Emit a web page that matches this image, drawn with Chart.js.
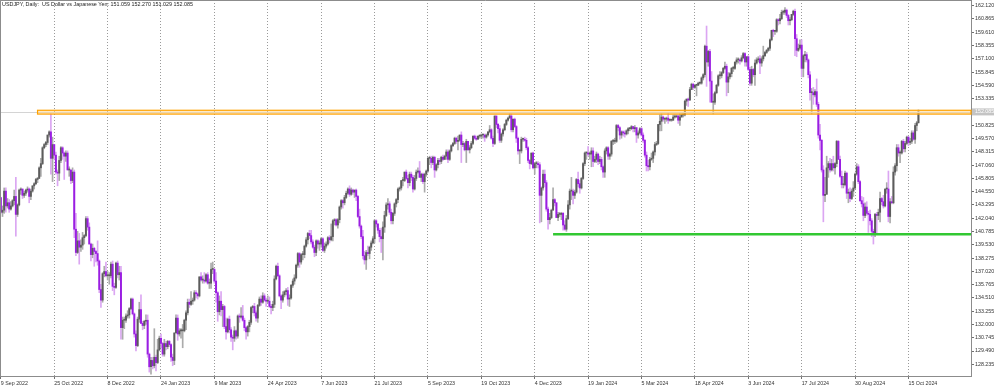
<!DOCTYPE html>
<html>
<head>
<meta charset="utf-8">
<title>USDJPY Daily</title>
<script src="https://cdn.jsdelivr.net/npm/chart.js@4.4.1/dist/chart.umd.min.js"></script>
<style>
  html, body { margin: 0; padding: 0; background: #fff; }
  #wrap { width: 1000px; height: 388px; }
</style>
</head>
<body>
<div id="wrap"><canvas id="priceChart" width="1000" height="388"></canvas></div>
<script>
// USDJPY daily candles, 9 Sep 2022 .. 23 Oct 2024 (one line per week)
var opens = [
  144.0,
  142.6,142.8,144.6,143.2,143.5, 142.9,143.2,143.7,144.1,142.4, 143.3,144.7,144.8,144.2,144.4,
  144.7,144.8,144.1,144.6,145.1, 145.3,145.7,145.8,146.8,147.2, 148.7,149.0,149.2,149.9,150.2,
  147.7,149.0,148.0,146.4,146.3, 147.5,148.7,148.2,147.9,148.2, 146.6,146.6,145.6,146.4,141.0,
  138.8,139.9,139.3,139.5,140.2, 140.4,142.0,141.2,139.6,138.6, 139.2,138.9,138.7,138.0,135.3,
  134.3,136.8,137.0,136.6,136.6, 136.6,137.7,135.6,135.5,137.8, 136.7,136.9,131.7,132.4,132.4,
  132.8,132.9,133.5,134.4,133.0, 131.1,130.0,132.5,133.4,
  132.1,131.9,132.3,132.4,129.2, 128.0,128.6,128.1,128.9,128.4, 129.6,130.7,130.2,129.2,130.2,
  129.9,130.4,130.1,128.9,128.6, 131.2,132.6,131.1,131.4,131.4, 131.4,132.4,133.1,134.1,133.9,
  134.2,134.3,135.0,134.9,134.7, 136.5,136.2,136.2,136.1,136.7, 135.9,135.9,137.2,137.2,136.1,
  135.0,133.2,134.2,133.4,133.7, 131.8,131.3,132.5,131.5,130.8, 130.7,131.4,130.9,132.8,132.7,
  132.8,132.4,131.7,131.3,131.8, 132.2,133.6,133.7,133.1,132.6, 133.8,134.4,134.1,134.7,134.3,
  134.2,134.2,133.7,133.6,133.9, 136.3,137.5,136.6,134.7,134.3, 134.8,135.1,135.2,134.4,134.5,
  135.7,136.1,136.4,137.6,138.7, 137.9,138.6,138.6,139.4,140.0, 140.6,140.4,139.8,139.3,138.8,
  139.9,139.6,139.6,140.1,139.0, 139.4,139.6,140.2,140.0,140.3, 141.8,141.9,141.4,141.9,143.1,
  143.7,143.5,144.0,144.4,144.8, 144.3,144.7,144.5,144.7,144.1, 142.2,141.3,140.3,138.5,138.1,
  138.8,138.7,139.3,139.7,140.1, 141.8,141.5,140.9,140.3,140.1, 141.2,142.3,143.3,143.4,142.6,
  141.8,142.5,143.4,143.8,144.8, 144.9,145.6,145.6,146.4,145.8, 145.4,146.2,145.9,144.8,145.8,
  146.4,146.5,145.9,146.2,145.5, 146.2,146.5,147.7,147.7,147.3, 147.8,146.6,147.1,147.5,147.4,
  147.8,147.6,147.9,148.3,147.6, 148.4,148.9,149.1,149.6,149.3, 149.4,149.9,149.0,149.1,148.5,
  149.3,148.5,148.7,149.1,149.8, 149.6,149.5,149.8,149.8,149.9, 149.9,149.7,149.9,150.2,150.4,
  149.6,149.1,151.7,150.9,150.5, 149.4,150.0,150.4,150.9,151.3, 151.5,151.7,150.4,151.4,150.7,
  149.6,148.4,148.4,149.5,149.5, 149.4,148.7,147.5,147.2,148.2, 146.8,147.2,147.2,147.1,144.2,
  144.9,146.2,145.4,142.9,141.9, 142.1,142.8,143.8,143.5,142.1, 142.4,142.4,142.5,141.4,
  141.0,142.0,143.3,144.6,
  144.6,144.2,144.5,145.7,145.3, 144.9,145.8,147.2,148.2,148.2, 148.1,148.1,148.4,147.4,147.6,
  148.1,147.4,147.6,146.9,146.4, 148.4,148.7,147.9,148.1,149.3, 149.3,149.3,150.8,150.6,149.9,
  150.2,150.1,150.0,150.3,150.5, 150.5,150.7,150.5,150.6,149.9, 150.1,150.5,149.9,149.4,148.0,
  147.0,146.9,147.6,147.7,148.3, 149.0,149.1,150.9,151.2,151.6, 151.4,151.4,151.5,151.3,151.3,
  151.3,151.6,151.6,151.7,151.3, 151.6,151.8,151.8,153.1,153.3, 153.2,154.2,154.7,154.4,154.6,
  154.6,154.8,154.8,155.3,155.6, 158.3,156.8,157.8,155.0,153.0, 153.0,153.9,154.6,155.5,155.5,
  155.8,156.2,156.4,154.9,155.4, 155.7,156.2,156.2,156.8,157.0, 157.0,156.9,157.2,157.6,156.8,
  157.3,156.1,154.8,156.1,155.6, 156.7,157.0,157.1,156.7,157.1, 157.4,157.7,157.9,158.1,158.9,
  159.8,159.7,159.7,160.8,160.7, 160.9,161.5,161.5,161.7,161.2, 160.7,160.8,161.3,161.6,159.0,
  157.9,158.1,158.4,156.2,157.4, 157.5,157.0,155.6,153.9,153.9, 153.7,154.0,152.8,149.9,149.4,
  146.6,144.2,144.3,146.8,147.2, 146.6,147.2,146.8,147.2,149.3, 147.6,146.0,145.2,145.2,146.3,
  144.4,144.5,143.9,144.6,144.9, 146.2,146.9,145.5,143.7,143.4, 142.3,143.1,142.5,142.4,141.8,
  140.8,140.6,142.4,142.3,142.6, 143.9,143.6,143.2,144.8,144.8, 142.2,143.6,143.5,146.4,147.0,
  148.7,148.2,148.2,149.3,148.6, 149.1,149.7,149.2,149.3,150.1, 149.5,150.8,151.059
];
var highs = [
  144.0,
  143.2,144.9,144.9,143.9,143.8, 143.6,143.8,144.7,145.9,143.4, 144.8,144.9,144.8,144.6,144.8,
  145.0,144.9,144.8,145.1,145.4, 145.8,145.9,146.9,147.7,148.8, 149.1,149.3,149.9,150.3,151.9,
  149.7,149.0,148.3,146.6,147.9, 148.8,148.8,148.3,148.4,148.4, 146.9,146.6,146.8,146.6,142.5,
  140.8,140.6,140.0,140.7,140.5, 142.2,142.2,141.6,139.7,139.6, 139.3,139.0,139.9,138.1,135.8,
  136.9,137.5,137.9,137.0,136.9, 137.9,138.0,135.9,137.9,138.0, 137.5,137.5,132.7,132.7,133.0,
  133.3,133.6,134.5,134.5,133.1, 131.4,132.7,134.1,134.8,
  132.3,132.4,132.9,132.9,129.3, 128.9,128.9,131.6,129.1,130.6, 130.9,131.1,130.3,130.6,130.4,
  130.5,130.5,130.2,129.2,131.2, 132.9,132.9,131.6,131.6,132.0, 132.5,133.3,134.4,134.4,135.1,
  134.5,135.2,135.2,135.0,136.5, 136.9,136.6,136.9,136.8,136.9, 136.3,137.8,137.9,137.3,136.9,
  135.1,134.7,135.1,133.9,133.8, 132.6,132.6,132.8,131.7,131.0, 131.8,131.5,132.9,133.0,133.6,
  133.8,132.6,131.8,131.9,132.4, 133.7,133.8,134.0,133.3,133.9, 134.6,134.7,135.0,134.9,134.5,
  134.7,134.6,133.9,134.2,136.6, 137.6,137.8,136.7,134.8,135.1, 135.2,135.4,135.5,134.8,135.8,
  136.3,136.7,137.7,138.8,138.8, 138.7,138.9,139.5,140.2,140.7, 140.9,140.9,140.0,139.5,140.0,
  140.0,139.9,140.2,140.2,139.7, 139.8,140.3,140.4,141.5,141.9, 142.0,142.0,142.0,143.2,143.8,
  143.8,144.2,144.6,144.9,145.1, 144.9,144.8,144.7,144.8,144.2, 142.9,141.4,140.9,138.9,139.0,
  139.4,139.4,139.9,140.3,141.9, 141.9,141.5,141.1,141.1,141.7, 142.7,143.5,143.9,143.6,142.9,
  142.6,143.5,143.9,144.9,145.0, 145.6,145.9,146.4,146.6,146.1, 146.4,146.4,146.1,146.1,146.6,
  146.8,147.4,146.3,146.3,146.3, 146.6,147.8,147.9,147.9,147.9, 147.9,147.2,147.7,147.7,147.9,
  148.0,148.0,148.5,148.5,148.5, 149.0,149.2,149.7,149.7,149.8, 149.9,150.2,149.3,149.2,149.5,
  149.3,148.9,149.3,149.8,149.9, 149.8,149.8,149.9,150.0,150.0, 150.0,150.0,150.2,150.8,150.5,
  149.8,151.7,151.7,151.0,150.8, 150.1,150.5,151.0,151.4,151.6, 151.9,151.9,151.4,151.5,150.8,
  149.7,148.5,149.7,149.6,149.7, 149.6,148.8,147.6,148.2,148.3, 147.3,147.4,147.4,147.3,145.0,
  146.6,146.6,145.6,143.1,142.5, 142.9,144.9,143.9,143.5,142.6, 142.6,142.6,142.6,141.8,
  142.3,143.7,144.8,145.9,
  144.8,144.7,145.8,146.4,145.6, 145.9,147.3,148.3,148.3,148.8, 148.3,148.7,148.7,147.9,148.3,
  148.2,147.9,147.8,147.0,148.6, 148.8,148.8,148.2,149.4,149.5, 149.6,150.9,150.9,150.7,150.3,
  150.3,150.3,150.4,150.6,150.6, 150.8,150.7,150.8,150.6,150.3, 150.6,150.6,150.1,149.5,148.3,
  147.5,147.8,148.2,148.4,149.2, 149.3,150.9,151.8,151.9,151.7, 151.5,151.6,152.0,151.4,151.4,
  151.8,151.8,151.8,151.8,151.9, 151.9,151.9,153.2,153.3,153.4, 154.4,154.8,154.8,154.7,154.7,
  154.9,154.9,155.4,155.7,158.4, 160.2,157.9,158.0,155.9,153.8, 154.0,154.7,155.6,155.9,155.9,
  156.3,156.8,156.6,155.8,155.8, 156.3,156.4,156.8,157.2,157.2, 157.1,157.4,157.7,157.7,157.3,
  157.4,156.3,156.4,156.2,157.0, 157.2,157.3,157.4,157.3,158.3, 157.8,158.0,158.2,159.0,159.8,
  159.9,159.8,160.9,160.9,161.3, 161.7,161.7,161.95,161.8,161.3, 161.0,161.3,161.7,161.8,159.4,
  158.5,158.9,158.9,157.5,157.8, 157.7,157.1,155.9,154.3,154.4, 154.2,155.2,153.0,150.9,149.5,
  147.0,145.9,147.9,147.4,147.7, 147.6,147.9,147.3,149.4,149.4, 147.9,146.5,146.0,146.5,146.4,
  144.8,144.9,144.8,145.5,146.3, 147.2,147.1,145.6,144.1,144.0, 143.5,143.6,142.7,142.8,142.0,
  141.0,142.5,142.6,142.9,144.5, 144.0,144.2,144.8,145.4,146.5, 143.9,144.1,146.9,147.2,149.0,
  149.0,148.4,149.4,149.5,149.3, 149.8,149.8,149.6,150.3,150.3, 151.0,151.2,152.270
];
var lows = [
  142.5,
  142.2,142.5,142.6,143.0,142.6, 142.8,143.1,143.3,140.35,142.2, 143.2,144.3,143.9,144.0,144.2,
  144.5,143.5,143.8,144.5,144.8, 145.2,145.4,145.8,146.0,147.1, 148.6,148.8,149.0,149.7,146.2,
  145.5,147.6,146.2,145.1,145.6, 147.3,147.6,145.7,147.4,146.6, 146.0,145.3,145.4,140.2,138.5,
  138.7,137.7,138.9,139.1,139.6, 140.3,140.9,139.6,138.0,138.3, 137.5,137.9,137.6,135.0,133.6,
  134.1,136.5,136.5,136.2,135.8, 136.4,135.2,134.8,135.4,136.4, 136.2,130.6,130.6,131.6,132.2,
  132.6,132.6,133.4,132.9,130.8, 129.5,129.9,132.2,132.1,
  131.5,131.6,132.0,128.9,127.5, 127.3,127.8,127.9,127.6,128.3, 129.5,129.8,129.0,129.0,129.6,
  129.7,129.9,128.5,128.1,128.2, 131.2,130.5,130.9,130.7,129.8, 131.3,131.5,132.9,133.6,133.8,
  133.9,134.2,134.5,134.4,134.6, 136.1,135.9,135.9,136.0,135.8, 135.4,135.4,136.8,135.9,134.1,
  132.3,132.9,132.8,131.8,131.6, 130.6,131.2,131.2,130.4,129.6, 130.4,130.6,130.7,132.2,132.6,
  132.3,131.4,130.6,130.9,131.3, 132.0,133.1,132.8,132.3,132.2, 133.7,133.8,134.0,134.2,133.7,
  134.0,133.6,133.0,133.3,133.6, 136.2,136.5,134.6,133.5,134.1, 134.6,134.8,133.8,133.7,134.4,
  135.5,135.8,136.3,137.4,137.4, 137.7,138.1,138.3,139.3,139.6, 140.1,139.6,139.2,138.4,138.5,
  139.2,139.0,139.3,138.9,138.8, 139.2,139.5,139.7,139.9,139.9, 141.4,141.3,141.1,141.6,142.9,
  143.0,143.3,143.9,144.3,144.1, 144.2,144.3,144.0,143.7,142.1, 141.1,140.1,138.2,137.7,137.2,
  138.5,138.2,139.0,139.6,139.7, 141.2,140.6,139.8,138.8,138.1, 140.7,142.2,142.9,142.4,141.5,
  141.5,142.3,143.1,143.5,144.6, 144.7,145.1,145.5,145.7,144.9, 145.1,145.6,144.5,144.7,145.6,
  146.3,145.9,145.5,145.3,144.5, 146.0,146.4,147.1,146.8,147.1, 145.9,146.5,146.8,147.1,147.2,
  147.5,147.6,147.6,147.3,147.5, 148.3,148.8,149.0,149.1,148.5, 149.3,147.3,148.8,148.4,147.3,
  148.5,148.2,148.6,149.0,149.5, 149.4,149.5,149.6,149.6,149.6, 149.3,149.6,149.8,150.1,149.5,
  148.8,149.0,150.6,150.1,149.2, 149.2,149.8,150.3,150.8,151.2, 151.5,150.2,150.2,150.6,149.2,
  148.1,147.2,148.2,149.3,149.3, 148.5,147.3,146.7,147.1,146.7, 146.2,146.8,146.8,141.6,141.7,
  144.7,145.0,142.7,141.0,141.5, 142.0,142.8,143.2,142.1,141.8, 142.2,141.9,140.9,140.9,
  140.8,141.9,142.9,143.8,
  143.4,143.9,144.4,145.0,144.4, 144.8,145.7,147.0,147.6,147.9, 147.6,146.9,146.9,147.3,147.3,
  147.1,147.2,146.6,145.9,145.9, 148.1,147.6,147.6,147.9,149.0, 149.1,149.2,150.3,149.5,149.6,
  149.8,149.7,149.9,150.0,150.3, 150.4,150.2,150.2,149.2,149.6, 150.0,149.8,149.2,147.8,146.5,
  146.5,146.6,147.5,147.3,148.0, 148.9,149.0,150.3,150.3,151.2, 151.0,151.2,151.0,151.2,151.2,
  151.3,151.5,151.6,151.0,150.8, 151.6,151.6,151.7,152.7,152.6, 153.2,154.2,154.2,154.3,153.6,
  154.6,154.7,154.7,155.1,155.4, 154.5,156.4,153.0,153.0,151.9, 152.8,153.8,154.5,155.2,155.3,
  155.7,156.1,153.6,153.9,155.2, 155.4,155.9,156.1,156.6,156.7, 156.6,156.8,157.1,156.4,156.4,
  156.0,154.6,154.6,155.4,154.6, 156.6,156.8,155.7,156.4,156.9, 157.3,157.6,157.8,157.9,158.8,
  159.2,159.4,159.6,160.3,160.4, 160.8,161.3,161.3,161.0,160.3, 160.3,160.7,161.2,157.4,157.3,
  157.8,158.0,155.4,155.4,156.8, 156.8,155.3,153.2,151.9,152.8, 153.5,152.6,149.6,148.5,146.4,
  141.7,143.6,144.3,145.9,146.4, 146.5,146.5,146.2,146.9,147.6, 145.9,144.9,144.9,145.1,143.9,
  143.5,143.6,143.8,144.1,144.8, 146.1,145.3,143.6,143.1,141.8, 142.1,142.3,140.7,141.4,140.3,
  139.6,140.3,140.5,141.9,141.7, 143.3,143.0,143.1,144.4,141.7, 141.6,143.4,143.4,146.1,146.5,
  147.9,147.3,148.1,148.3,148.3, 149.0,148.9,149.0,149.1,149.4, 149.1,150.3,151.029
];
var closes = [
  142.6,
  142.8,144.6,143.2,143.5,142.9, 143.2,143.7,144.1,142.4,143.3, 144.7,144.8,144.2,144.4,144.7,
  144.8,144.1,144.6,145.1,145.3, 145.7,145.8,146.8,147.2,148.7, 149.0,149.2,149.9,150.2,147.7,
  149.0,148.0,146.4,146.3,147.5, 148.7,148.2,147.9,148.2,146.6, 146.6,145.6,146.4,141.0,138.8,
  139.9,139.3,139.5,140.2,140.4, 142.0,141.2,139.6,138.6,139.2, 138.9,138.7,138.0,135.3,134.3,
  136.8,137.0,136.6,136.6,136.6, 137.7,135.6,135.5,137.8,136.7, 136.9,131.7,132.4,132.4,132.8,
  132.9,133.5,134.4,133.0,131.1, 130.0,132.5,133.4,132.1,
  131.9,132.3,132.4,129.2,128.0, 128.6,128.1,128.9,128.4,129.6, 130.7,130.2,129.2,130.2,129.9,
  130.4,130.1,128.9,128.6,131.2, 132.6,131.1,131.4,131.4,131.4, 132.4,133.1,134.1,133.9,134.2,
  134.3,135.0,134.9,134.7,136.5, 136.2,136.2,136.1,136.7,135.9, 135.9,137.2,137.2,136.1,135.0,
  133.2,134.2,133.4,133.7,131.8, 131.3,132.5,131.5,130.8,130.7, 131.4,130.9,132.8,132.7,132.8,
  132.4,131.7,131.3,131.8,132.2, 133.6,133.7,133.1,132.6,133.8, 134.4,134.1,134.7,134.3,134.2,
  134.2,133.7,133.6,133.9,136.3, 137.5,136.6,134.7,134.3,134.8, 135.1,135.2,134.4,134.5,135.7,
  136.1,136.4,137.6,138.7,137.9, 138.6,138.6,139.4,140.0,140.6, 140.4,139.8,139.3,138.8,139.9,
  139.6,139.6,140.1,139.0,139.4, 139.6,140.2,140.0,140.3,141.8, 141.9,141.4,141.9,143.1,143.7,
  143.5,144.0,144.4,144.8,144.3, 144.7,144.5,144.7,144.1,142.2, 141.3,140.3,138.5,138.1,138.8,
  138.7,139.3,139.7,140.1,141.8, 141.5,140.9,140.3,140.1,141.2, 142.3,143.3,143.4,142.6,141.8,
  142.5,143.4,143.8,144.8,144.9, 145.6,145.6,146.4,145.8,145.4, 146.2,145.9,144.8,145.8,146.4,
  146.5,145.9,146.2,145.5,146.2, 146.5,147.7,147.7,147.3,147.8, 146.6,147.1,147.5,147.4,147.8,
  147.6,147.9,148.3,147.6,148.4, 148.9,149.1,149.6,149.3,149.4, 149.9,149.0,149.1,148.5,149.3,
  148.5,148.7,149.1,149.8,149.6, 149.5,149.8,149.8,149.9,149.9, 149.7,149.9,150.2,150.4,149.6,
  149.1,151.7,150.9,150.5,149.4, 150.0,150.4,150.9,151.3,151.5, 151.7,150.4,151.4,150.7,149.6,
  148.4,148.4,149.5,149.5,149.4, 148.7,147.5,147.2,148.2,146.8, 147.2,147.2,147.1,144.2,144.9,
  146.2,145.4,142.9,141.9,142.1, 142.8,143.8,143.5,142.1,142.4, 142.4,142.5,141.4,141.0,
  142.0,143.3,144.6,144.6,
  144.2,144.5,145.7,145.3,144.9, 145.8,147.2,148.2,148.2,148.1, 148.1,148.4,147.4,147.6,148.1,
  147.4,147.6,146.9,146.4,148.4, 148.7,147.9,148.1,149.3,149.3, 149.3,150.8,150.6,149.9,150.2,
  150.1,150.0,150.3,150.5,150.5, 150.7,150.5,150.6,149.9,150.1, 150.5,149.9,149.4,148.0,147.0,
  146.9,147.6,147.7,148.3,149.0, 149.1,150.9,151.2,151.6,151.4, 151.4,151.5,151.3,151.3,151.3,
  151.6,151.6,151.7,151.3,151.6, 151.8,151.8,153.1,153.3,153.2, 154.2,154.7,154.4,154.6,154.6,
  154.8,154.8,155.3,155.6,158.3, 156.8,157.8,155.0,153.0,153.0, 153.9,154.6,155.5,155.5,155.8,
  156.2,156.4,154.9,155.4,155.7, 156.2,156.2,156.8,157.0,157.0, 156.9,157.2,157.6,156.8,157.3,
  156.1,154.8,156.1,155.6,156.7, 157.0,157.1,156.7,157.1,157.4, 157.7,157.9,158.1,158.9,159.8,
  159.7,159.7,160.8,160.7,160.9, 161.5,161.5,161.7,161.2,160.7, 160.8,161.3,161.6,159.0,157.9,
  158.1,158.4,156.2,157.4,157.5, 157.0,155.6,153.9,153.9,153.7, 154.0,152.8,149.9,149.4,146.6,
  144.2,144.3,146.8,147.2,146.6, 147.2,146.8,147.2,149.3,147.6, 146.0,145.2,145.2,146.3,144.4,
  144.5,143.9,144.6,144.9,146.2, 146.9,145.5,143.7,143.4,142.3, 143.1,142.5,142.4,141.8,140.8,
  140.6,142.4,142.3,142.6,143.9, 143.6,143.2,144.8,144.8,142.2, 143.6,143.5,146.4,147.0,148.7,
  148.2,148.2,149.3,148.6,149.1, 149.7,149.2,149.3,150.1,149.5, 150.8,151.06,152.085
];

// date labels on the time axis, one every 32 bars
var xTickLabels = ['9 Sep 2022', '25 Oct 2022', '8 Dec 2022', '24 Jan 2023', '9 Mar 2023', '24 Apr 2023',
  '7 Jun 2023', '21 Jul 2023', '5 Sep 2023', '19 Oct 2023', '4 Dec 2023', '19 Jan 2024',
  '5 Mar 2024', '18 Apr 2024', '3 Jun 2024', '17 Jul 2024', '30 Aug 2024', '15 Oct 2024'];
var barsPerLabel = 32;
var emptyBarsRight = 31;

// price scale labels
var yTicks = [128.235, 129.490, 130.745, 132.000, 133.255, 134.510, 135.765, 137.020, 138.275,
  139.530, 140.785, 142.040, 143.295, 144.550, 145.805, 147.060, 148.315, 149.570, 150.825,
  153.335, 154.590, 155.845, 157.100, 158.355, 159.610, 160.865, 162.120];

// drawn objects
var lastPrice = 152.085;
var zoneFrom = 22, zoneLow = 151.88, zoneHigh = 152.24;
var supportFrom = 331, supportLevel = 140.53;
var title = 'USDJPY, Daily:  US Dollar vs Japanese Yen: 151.059 152.270 151.029 152.085';

var FONT = "'Liberation Sans', Arial, sans-serif";

var n = closes.length;
var slotLabels = [];
for (var i = 0; i < n + emptyBarsRight; i++) slotLabels.push('');
var xTickIndex = xTickLabels.map(function (t, k) { return k * barsPerLabel; });
xTickIndex.forEach(function (v, k) { slotLabels[v] = xTickLabels[k]; });

var bodyData = opens.map(function (o, i) { return [o, closes[i]]; });
var wickData = lows.map(function (l, i) { return [l, highs[i]]; });
var bodyColors = opens.map(function (o, i) { return closes[i] >= o ? '#5c5c5c' : '#9a1ee2'; });
var wickColors = opens.map(function (o, i) { return closes[i] >= o ? '#ababab' : '#dba6f2'; });

function noPad(s) { s.paddingTop = 0; s.paddingBottom = 0; s.paddingLeft = 0; s.paddingRight = 0; }

var overlay = {
  id: 'overlay',
  afterDatasetsDraw: function (chart) {
    var ctx = chart.ctx, a = chart.chartArea;
    var xs = chart.scales.x, ys = chart.scales.y;
    ctx.save();
    // last price line
    var yp = Math.round(ys.getPixelForValue(lastPrice)) + 0.5;
    ctx.strokeStyle = '#d4d4d4';
    ctx.lineWidth = 1;
    ctx.beginPath(); ctx.moveTo(a.left, yp); ctx.lineTo(a.right, yp); ctx.stroke();
    // resistance zone
    var zx = xs.getPixelForValue(zoneFrom);
    var zt = ys.getPixelForValue(zoneHigh), zb = ys.getPixelForValue(zoneLow);
    ctx.fillStyle = 'rgba(255,214,140,0.5)';
    ctx.fillRect(zx, zt, a.right - zx, zb - zt);
    ctx.strokeStyle = '#ffa200';
    ctx.lineWidth = 1.2;
    ctx.strokeRect(zx, zt, a.right - zx, zb - zt);
    // support line
    var gy = ys.getPixelForValue(supportLevel), gx = xs.getPixelForValue(supportFrom);
    ctx.strokeStyle = '#32c832';
    ctx.lineWidth = 2.6;
    ctx.beginPath(); ctx.moveTo(gx, gy); ctx.lineTo(a.right, gy); ctx.stroke();
    ctx.restore();
  },
  afterDraw: function (chart) {
    var ctx = chart.ctx, a = chart.chartArea, ys = chart.scales.y;
    ctx.save();
    // frame top + left
    ctx.strokeStyle = '#8c8c8c';
    ctx.lineWidth = 1;
    ctx.beginPath();
    ctx.moveTo(a.left + 0.5, a.bottom); ctx.lineTo(a.left + 0.5, a.top + 0.5); ctx.lineTo(a.right, a.top + 0.5);
    ctx.stroke();
    // title
    ctx.fillStyle = '#222';
    ctx.font = '5.4px ' + FONT;
    ctx.textBaseline = 'middle';
    ctx.textAlign = 'left';
    ctx.fillText(title, 2, 5);
    // last price tag on the scale
    var yp = ys.getPixelForValue(lastPrice);
    ctx.fillStyle = '#c4c4c4';
    ctx.fillRect(a.right + 1, yp - 3.5, 22, 7);
    ctx.fillStyle = '#ffffff';
    ctx.font = '5.3px ' + FONT;
    ctx.fillText(lastPrice.toFixed(3), a.right + 4, yp);
    ctx.restore();
  }
};

new Chart(document.getElementById('priceChart').getContext('2d'), {
  type: 'bar',
  data: {
    labels: slotLabels,
    datasets: [
      { label: 'body', data: bodyData, backgroundColor: bodyColors, barThickness: 1.3,
        minBarLength: 1, grouped: false, borderWidth: 0, order: 0 },
      { label: 'wick', data: wickData, backgroundColor: wickColors, barThickness: 1,
        grouped: false, borderWidth: 0, order: 1 }
    ]
  },
  options: {
    responsive: false,
    devicePixelRatio: 1,
    animation: false,
    layout: { padding: 0 },
    plugins: { legend: { display: false }, tooltip: { enabled: false } },
    scales: {
      x: {
        offset: true,
        afterFit: function (s) { s.height = 12; noPad(s); },
        afterBuildTicks: function (s) { s.ticks = xTickIndex.map(function (v) { return { value: v }; }); },
        grid: { offset: false, color: '#9a9a9a', lineWidth: 1, drawTicks: true, tickLength: 3,
          tickColor: '#707070', tickBorderDash: [] },
        border: { display: true, color: '#8c8c8c', dash: [1, 2] },
        ticks: {
          autoSkip: false, maxRotation: 0, align: 'start', padding: 1, color: '#333',
          font: { family: FONT, size: 5.3 },
          callback: function (v) { var k = xTickIndex.indexOf(v); return k >= 0 ? xTickLabels[k] : ''; }
        }
      },
      y: {
        position: 'right',
        min: 127.13,
        max: 162.66,
        afterFit: function (s) { s.width = 29; noPad(s); },
        afterBuildTicks: function (s) { s.ticks = yTicks.map(function (v) { return { value: v }; }); },
        grid: { drawOnChartArea: false, drawTicks: true, tickLength: 3, tickColor: '#707070' },
        border: { display: true, color: '#8c8c8c' },
        ticks: {
          autoSkip: false, padding: 1, color: '#333',
          font: { family: FONT, size: 5.3 },
          callback: function (v) { return v.toFixed(3); }
        }
      }
    }
  },
  plugins: [overlay]
});
</script>
</body>
</html>
